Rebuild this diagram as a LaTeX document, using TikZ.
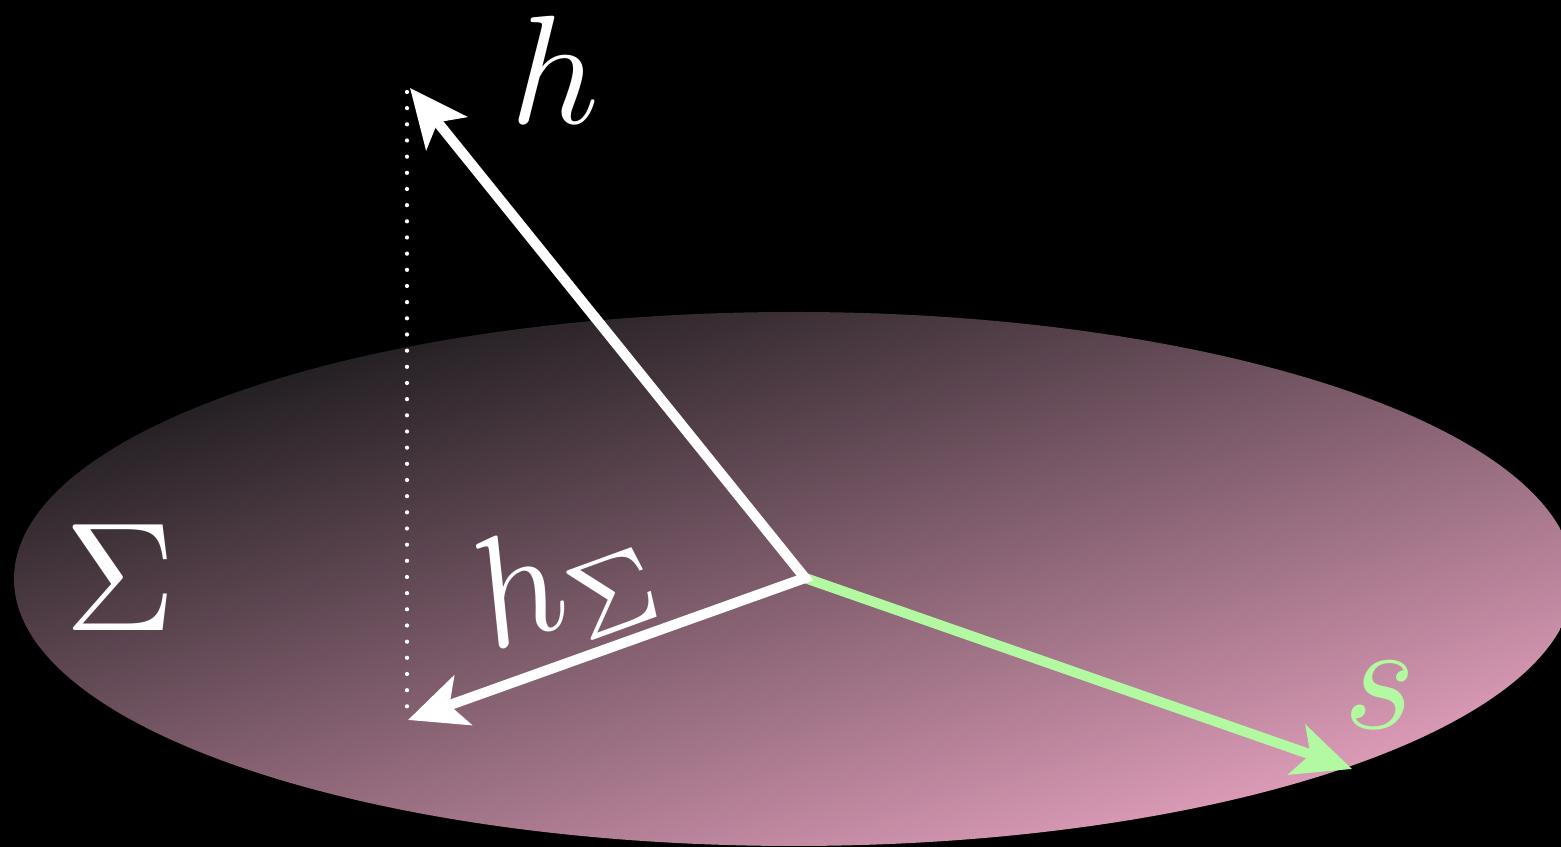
\documentclass[tikz,border=0pt]{standalone}
\usetikzlibrary{arrows.meta}
\definecolor{sgreen}{HTML}{B2F9A2}
\definecolor{planedark}{HTML}{19181A}
\definecolor{planepink}{HTML}{E6A2BF}

\begin{document}
\begin{tikzpicture}[
	vec/.style={line width=2.9pt, line join=miter},
	tip/.style={-{Stealth[length=0.58cm, width=0.52cm, inset=0.14cm]}},
	lbl/.style={font=\normalsize, scale=4.4, text=white, inner sep=0pt}]
	% Background and plane:
	\useasboundingbox (0, 0) rectangle (15.61, 8.47);
	\fill[black] (0, 0) rectangle (15.61, 8.47);
	\shade[top color=planedark, bottom color=planepink, shading angle=17] (7.94, 2.68) ellipse (7.80 and 2.67);
	% Points:
	\coordinate (O) at (8.05, 2.69);
	\coordinate (htip) at (4.10, 7.59);
	\coordinate (hstip) at (4.08, 1.27);
	\coordinate (stip) at (13.52, 0.78);
	\coordinate (dtop) at (4.07, 7.55);
	\coordinate (dbot) at (4.07, 1.29);
	% Vectors:
	\draw[white, line width=1.2pt, line cap=round, dash pattern=on 0pt off 4.6pt] (dtop) -- (dbot);
	\draw[vec, tip, sgreen] (O) -- (stip);
	\draw[vec, white, {Stealth[length=0.58cm, width=0.52cm, inset=0.14cm]}-{Stealth[length=0.58cm, width=0.52cm, inset=0.14cm]}] (htip) -- (O) -- (hstip);
	% Labels:
	\node[lbl] (hlab) at (5.55, 7.77) {$h$};
	\node[lbl] (Slab) at (1.20, 2.69) {$\Sigma$};
	\node[lbl, rotate=20, anchor=base west] (hSlab) at (4.90, 1.94) {$h_\Sigma$};
	\node[lbl, text=sgreen] (slab) at (13.80, 1.52) {$s$};
\end{tikzpicture}
\end{document}
